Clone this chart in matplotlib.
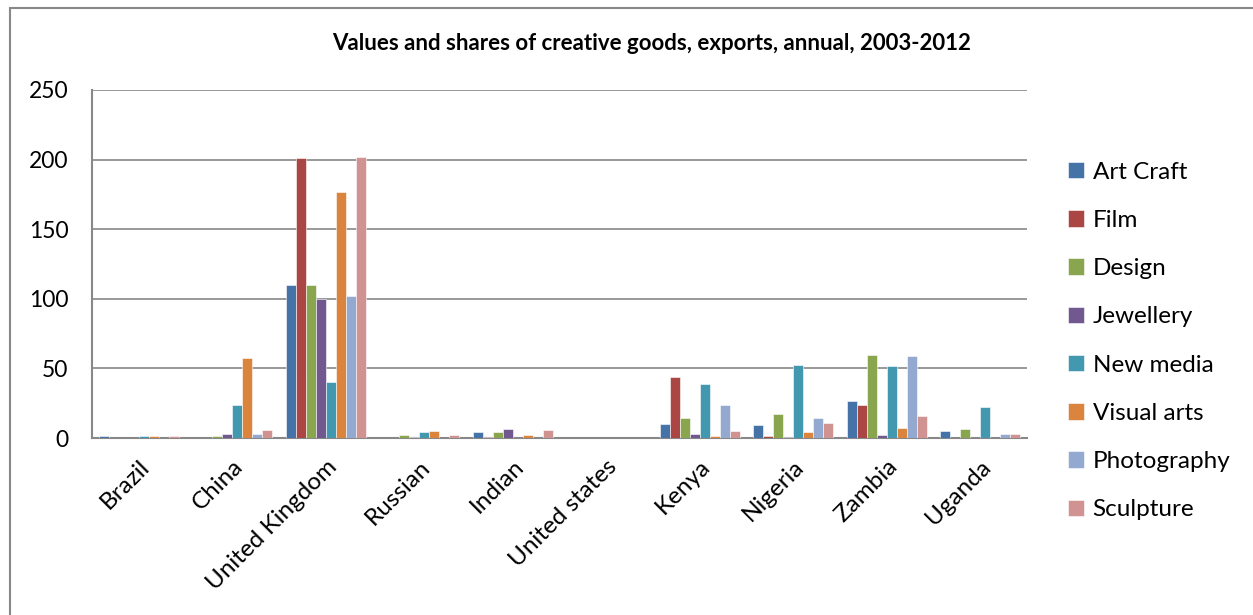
import numpy as np
import matplotlib.pyplot as plt

countries = ['Brazil', 'China', 'United Kingdom', 'Russian', 'Indian',
             'United states', 'Kenya', 'Nigeria', 'Zambia', 'Uganda']
series = ['Art Craft', 'Film', 'Design', 'Jewellery', 'New media',
          'Visual arts', 'Photography', 'Sculpture']

art_craft   = [1.5, 0, 110, 0, 4, 0, 10, 9, 26.6, 4.8]
film        = [0, 0, 201, 0, 1, 0, 44, 1.7, 24, 0]
design      = [0, 1.5, 110, 2, 4, 0, 14.7, 17.5, 59.7, 6.5]
jewellery   = [0, 3, 100, 1, 6.7, 0, 2.6, 1, 2.4, 0]
new_media   = [1.5, 23.5, 40, 4.5, 0, 0, 38.6, 52.7, 51.5, 22]
visual_arts = [1.5, 57.5, 177, 5, 2, 0, 1.7, 4.5, 7, 0]
photography = [0, 3, 102, 0, 0, 0, 24, 14.7, 59, 2.6]
sculpture   = [1.5, 6, 202, 2, 6, 0, 4.8, 11, 15.6, 2.6]

colors = ['#4572A7', '#AA4643', '#89A54E', '#71588F',
          '#4198AF', '#DB843D', '#93A9CF', '#D19392']

values = [art_craft, film, design, jewellery, new_media,
          visual_arts, photography, sculpture]

plt.rcParams['font.family'] = ['Lato', 'DejaVu Sans']

fig = plt.figure(figsize=(12.53, 6.15), dpi=100)
ax = fig.add_axes([0.0734, 0.2878, 0.7462, 0.5659])

# outer chart border
fig.patches.append(plt.Rectangle((0.008, -0.01), 1.2, 0.997, transform=fig.transFigure,
                                 fill=False, edgecolor='#888888', lw=1.5))

x = np.arange(len(countries))
w = 0.107
for i, (name, vals) in enumerate(zip(series, values)):
    ax.bar(x + (i - 3.5) * w, vals, w, color=colors[i], label=name,
           edgecolor='white', linewidth=0.4, zorder=3)

ax.set_xlim(-0.5, len(countries) - 0.5)
ax.set_ylim(0, 250)
ax.set_yticks(range(0, 251, 50))
ax.grid(axis='y', color='#888888', lw=1.2, zorder=0)
for s in ['top', 'right']:
    ax.spines[s].set_visible(False)
for s in ['left', 'bottom']:
    ax.spines[s].set_color('#888888')
    ax.spines[s].set_linewidth(1.5)
ax.tick_params(axis='y', length=0, labelsize=16.5, pad=17)
ax.tick_params(axis='x', length=0, labelsize=17.5, pad=13)
ax.set_xticks(x)
ax.set_xticklabels(countries, rotation=45, ha='right', rotation_mode='anchor')

fig.text(0.52, 0.93, 'Values and shares of creative goods, exports, annual, 2003-2012',
         ha='center', va='center', fontsize=16, fontweight='bold')

fig.legend(loc='center left', bbox_to_anchor=(0.8446, 0.4455), frameon=False,
           fontsize=17.5, handlelength=0.66, handleheight=0.66, labelspacing=1.12,
           handletextpad=0.35, borderaxespad=0)

fig.savefig('out.png', dpi=100)
